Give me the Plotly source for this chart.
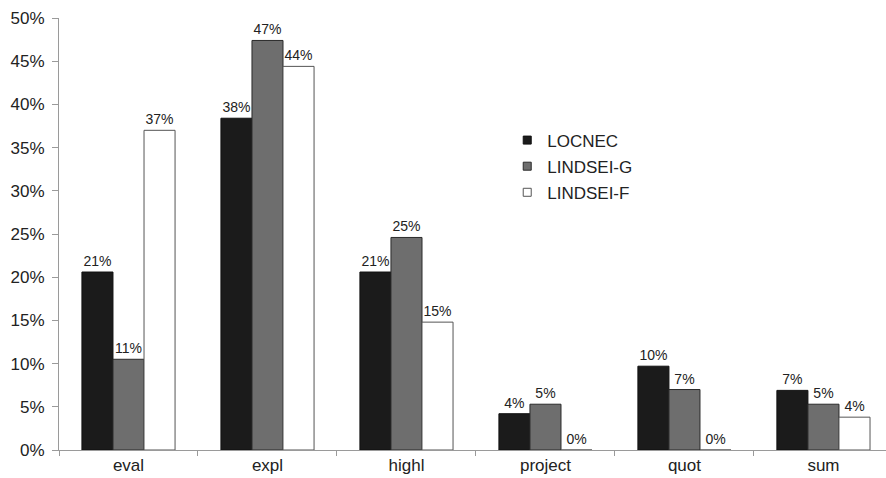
import plotly.graph_objects as go

# Share of each category per corpus (fraction of total)
categories = ["eval", "expl", "highl", "project", "quot", "sum"]
locnec = [0.206, 0.384, 0.206, 0.042, 0.097, 0.069]
lindsei_g = [0.105, 0.474, 0.246, 0.053, 0.070, 0.053]
lindsei_f = [0.370, 0.444, 0.148, 0.0, 0.0, 0.038]

series = [
    ("LOCNEC", locnec, "#1b1b1b", "#111111"),
    ("LINDSEI-G", lindsei_g, "#6e6e6e", "#2a2a2a"),
    ("LINDSEI-F", lindsei_f, "#ffffff", "#555555"),
]

font_family = "Liberation Sans, Arial, sans-serif"

fig = go.Figure()
for name, vals, fill, edge in series:
    fig.add_trace(go.Bar(
        name=name,
        x=categories,
        y=vals,
        legendgroup=name,
        showlegend=False,
        marker=dict(color=fill, line=dict(color=edge, width=1)),
        texttemplate="%{y:.0%}",
        textposition="outside",
        textfont=dict(family=font_family, size=14, color="#222222"),
        cliponaxis=False,
    ))
    # small square swatch for the legend
    fig.add_trace(go.Scatter(
        name=name,
        x=[None],
        y=[None],
        mode="markers",
        legendgroup=name,
        showlegend=True,
        marker=dict(symbol="square", size=8, color=fill,
                    line=dict(color=edge, width=1)),
    ))

fig.update_layout(
    width=886,
    height=478,
    margin=dict(l=59, r=0, t=18, b=28),
    paper_bgcolor="white",
    plot_bgcolor="white",
    barmode="group",
    bargap=0.33,
    bargroupgap=0,
    font=dict(family=font_family, size=17, color="#222222"),
    showlegend=True,
    legend=dict(
        x=0.542, y=0.758, xanchor="left", yanchor="top",
        bgcolor="rgba(0,0,0,0)",
        font=dict(family=font_family, size=17, color="#222222"),
        itemwidth=30,
        tracegroupgap=1,
    ),
    xaxis=dict(
        range=[-0.5, 5.45],
        showline=True, linecolor="#9a9a9a", linewidth=1,
        ticks="outside", tickson="boundaries", ticklen=5, tickcolor="#9a9a9a",
        showgrid=False, automargin=False,
        tickfont=dict(size=17),
    ),
    yaxis=dict(
        range=[0, 0.5],
        tickvals=[0, 0.05, 0.10, 0.15, 0.20, 0.25, 0.30, 0.35, 0.40, 0.45, 0.50],
        tickformat=".0%",
        showline=True, linecolor="#9a9a9a", linewidth=1,
        ticks="outside", ticklen=6, tickcolor="#9a9a9a",
        ticklabelstandoff=4,
        showgrid=False, zeroline=False, automargin=False,
        tickfont=dict(size=17),
    ),
)

fig.write_html("out.html")
